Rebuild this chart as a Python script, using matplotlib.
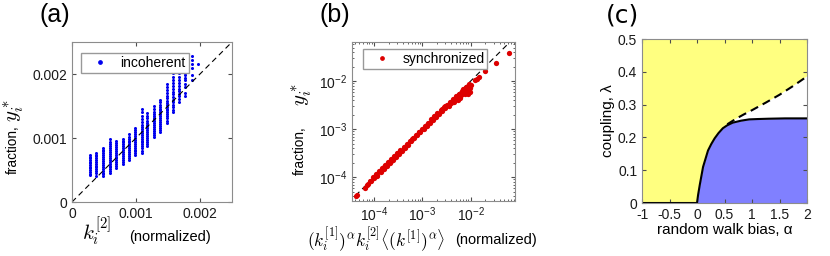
import numpy as np
import matplotlib
matplotlib.use("Agg")
import matplotlib.pyplot as plt

plt.rcParams["font.family"] = ["Liberation Sans", "DejaVu Sans"]
plt.rcParams["mathtext.fontset"] = "cm"

# (a) incoherent state: columns of points, y values in units of 1e-5
col_x = [0.00028, 0.00038, 0.00048, 0.00059, 0.00069, 0.00079, 0.00089, 0.00099, 0.00109,
         0.00118, 0.00128, 0.00138, 0.00148, 0.00158, 0.00167, 0.00177, 0.00187, 0.00197]
col_y = [
    [42, 44, 47, 50, 53, 55, 58, 61, 63, 66, 69, 71, 73],
    [40, 45, 48, 51, 54, 57, 60, 63, 66, 69, 72, 74, 77],
    [40, 43, 46, 49, 52, 55, 58, 61, 64, 67, 70, 73, 76, 79, 82, 85],
    [45, 48, 51, 54, 57, 60, 63, 66, 69, 72, 75, 78, 81, 84, 87, 90, 93, 98],
    [53, 56, 59, 62, 65, 68, 71, 74, 77, 80, 83, 86, 89, 92, 96],
    [60, 63, 66, 69, 72, 75, 78, 81, 84, 87, 90, 93, 96, 98],
    [66, 69, 72, 75, 78, 81, 84, 87, 90, 93, 96, 99, 102, 107],
    [73, 76, 79, 82, 85, 88, 91, 94, 97, 100, 103, 106, 109, 112, 115],
    [76, 80, 84, 87, 90, 93, 96, 99, 102, 105, 108, 111, 114, 117, 120, 125, 130, 135, 140, 145],
    [88, 91, 94, 97, 100, 103, 106, 109, 112, 115, 118, 121, 124, 127, 131, 135, 139],
    [102, 105, 108, 111, 114, 117, 120, 123, 126, 129, 132, 135, 138, 141, 145, 150],
    [110, 113, 116, 119, 122, 125, 128, 131, 134, 137, 140, 143, 146, 149, 152, 156, 160],
    [123, 127, 131, 134, 137, 140, 143, 146, 149, 152, 155, 158, 162, 166, 170, 175, 180, 185],
    [140, 144, 148, 152, 156, 160, 164, 168, 172, 176, 181, 186, 191, 196, 201, 206],
    [157, 161, 165, 169, 173, 177, 181, 186, 191, 196, 201, 205, 209, 213],
    [165, 170, 180, 185, 190, 194, 198, 202, 206, 210, 214, 219],
    [190, 199, 210, 216, 222, 228],
    [216],
]

# (b) synchronized state
sync_x = [4.3e-5, 4.5e-5, 6.5e-5, 7.0e-5, 7.6e-5, 8.2e-5, 8.8e-5, 9.5e-5, 1.02e-4, 1.10e-4,
          1.18e-4, 1.27e-4, 1.37e-4, 1.47e-4, 1.58e-4, 1.70e-4, 1.83e-4, 1.97e-4, 2.12e-4, 2.28e-4,
          2.45e-4, 2.64e-4, 2.84e-4, 3.05e-4, 3.28e-4, 3.53e-4, 3.80e-4, 4.09e-4, 4.40e-4, 4.73e-4,
          5.09e-4, 5.48e-4, 5.90e-4, 6.35e-4, 6.83e-4, 7.35e-4, 7.90e-4, 8.50e-4, 9.15e-4, 9.85e-4,
          1.06e-3, 1.14e-3, 1.23e-3, 1.32e-3, 1.42e-3, 1.53e-3, 1.65e-3, 1.77e-3, 1.91e-3, 2.05e-3,
          2.21e-3, 2.38e-3, 2.56e-3, 2.75e-3, 2.96e-3, 3.19e-3, 3.43e-3, 3.69e-3, 3.97e-3, 4.27e-3,
          4.60e-3, 4.95e-3, 5.30e-3, 5.70e-3, 6.20e-3, 6.70e-3, 7.20e-3, 7.80e-3, 8.40e-3, 9.00e-3,
          9.60e-3, 1.00e-2, 9.80e-3, 8.80e-3, 4.50e-3, 6.00e-3, 7.50e-3, 1.23e-2, 1.33e-2, 1.50e-2,
          2.00e-2, 3.37e-2, 6.10e-2, 2.50e-3, 3.00e-3, 3.50e-3, 5.00e-3, 5.50e-3, 6.50e-3, 7.00e-3,
          8.00e-3, 9.20e-3, 1.15e-4, 1.6e-4, 2.2e-4, 3.1e-4, 4.3e-4, 6.1e-4, 8.7e-4, 1.25e-3, 1.8e-3]
sync_y = [4.0e-5, 4.2e-5, 5.9e-5, 6.9e-5, 7.1e-5, 8.5e-5, 8.3e-5, 9.9e-5, 9.6e-5, 1.15e-4,
          1.10e-4, 1.33e-4, 1.29e-4, 1.53e-4, 1.48e-4, 1.77e-4, 1.72e-4, 2.05e-4, 1.99e-4, 2.37e-4,
          2.30e-4, 2.75e-4, 2.67e-4, 3.17e-4, 3.08e-4, 3.67e-4, 3.57e-4, 4.25e-4, 4.14e-4, 4.92e-4,
          4.78e-4, 5.70e-4, 5.55e-4, 6.60e-4, 6.42e-4, 7.64e-4, 7.43e-4, 8.84e-4, 8.60e-4, 1.02e-3,
          9.96e-4, 1.19e-3, 1.16e-3, 1.37e-3, 1.33e-3, 1.59e-3, 1.55e-3, 1.84e-3, 1.79e-3, 2.13e-3,
          2.06e-3, 2.45e-3, 2.38e-3, 2.83e-3, 2.72e-3, 3.24e-3, 3.12e-3, 3.70e-3, 3.57e-3, 4.22e-3,
          4.05e-3, 4.80e-3, 4.60e-3, 5.40e-3, 5.10e-3, 6.20e-3, 5.80e-3, 7.00e-3, 6.50e-3, 7.90e-3,
          7.20e-3, 8.20e-3, 5.80e-3, 5.50e-3, 3.60e-3, 4.50e-3, 5.30e-3, 1.05e-2, 1.12e-2, 1.20e-2,
          1.64e-2, 2.33e-2, 3.77e-2, 2.60e-3, 3.10e-3, 3.00e-3, 4.20e-3, 4.00e-3, 5.50e-3, 6.80e-3,
          7.50e-3, 8.50e-3, 1.08e-4, 1.62e-4, 2.14e-4, 3.15e-4, 4.25e-4, 6.15e-4, 8.6e-4, 1.24e-3, 1.82e-3]

# (c) phase diagram
alpha_solid = [-1, 0, 0.02, 0.05, 0.11, 0.2, 0.26, 0.32, 0.39, 0.47, 0.55, 0.65, 0.8, 0.95, 1.1, 1.3, 1.6, 2.0]
lam_solid = [0, 0, 0.025, 0.055, 0.11, 0.16, 0.18, 0.197, 0.213, 0.228, 0.237, 0.245, 0.251, 0.255, 0.256, 0.257, 0.258, 0.258]
alpha_dash = [0.55, 0.7, 0.85, 1.0, 1.25, 1.5, 1.75, 2.0]
lam_dash = [0.240, 0.256, 0.270, 0.283, 0.306, 0.330, 0.357, 0.386]

fig = plt.figure(figsize=(8.3, 2.56), dpi=100)
FS = 10
edge = "0.55"


def style(ax):
    ax.tick_params(which="both", direction="in", top=True, right=True, labelsize=FS,
                   color="0.3", labelcolor="0.1")
    ax.tick_params(which="major", length=3)
    ax.tick_params(which="minor", length=1.5)
    for s in ax.spines.values():
        s.set_color(edge)
        s.set_linewidth(0.8)


# ---- (a)
ax1 = fig.add_axes([0.0867, 0.2109, 0.1928, 0.625])
for xv, ys in zip(col_x, col_y):
    ax1.plot([xv] * len(ys), np.array(ys) * 1e-5, "o", color="#0000ee", ms=2.2, mew=0)
ax1.plot([0, 0.0025], [0, 0.0025], "--", color="k", lw=0.8, dashes=(5, 3.5))
ax1.plot([], [], "o", color="#0000ee", ms=2.4, label="incoherent")
ax1.set_xlim(0, 0.0025)
ax1.set_ylim(0, 0.0025)
ax1.set_xticks([0, 0.001, 0.002])
ax1.set_xticklabels(["0", "0.001", "0.002"])
ax1.set_yticks([0, 0.001, 0.002])
ax1.set_yticklabels(["0", "0.001", "0.002"])
style(ax1)
h, l = ax1.get_legend_handles_labels()
ax1.legend(h[-1:], l[-1:], loc="upper left", bbox_to_anchor=(0.056, 0.93), borderaxespad=0,
           fontsize=FS, fancybox=False, edgecolor="0.6", framealpha=1, handlelength=2.4,
           handletextpad=0.25, borderpad=0.2)
ax1.text(-0.37, 0.48, "fraction,", rotation=90, ha="center", va="top", fontsize=9.8,
         transform=ax1.transAxes)
ax1.text(-0.36, 0.5, "$y_i^*$", rotation=90, ha="center", va="bottom", fontsize=15,
         transform=ax1.transAxes)
ax1.text(0.156, -0.19, "$k_i^{[2]}$", ha="center", va="center", fontsize=15,
         transform=ax1.transAxes)
ax1.text(0.61, -0.216, "(normalized)", ha="center", va="center", fontsize=10.5,
         transform=ax1.transAxes)
fig.text(55 / 830, 1 - 15 / 256, "(a)", ha="center", va="center", fontsize=18)

# ---- (b)
ax2 = fig.add_axes([0.4241, 0.2148, 0.1964, 0.621])
ax2.set_xscale("log")
ax2.set_yscale("log")
ax2.plot([3e-5, 0.1], [3e-5, 0.1], "--", color="k", lw=0.8, dashes=(5, 3.5))
ax2.plot(sync_x, sync_y, "o", color="#dd0000", ms=3.8, mew=0)
ax2.plot([], [], "o", color="#dd0000", ms=2.4, label="synchronized")
ax2.set_xlim(3.5e-5, 0.083)
ax2.set_ylim(3.2e-5, 0.065)
ax2.set_xticks([1e-4, 1e-3, 1e-2])
ax2.set_xticklabels([r"$\mathregular{10^{-4}}$", r"$\mathregular{10^{-3}}$", r"$\mathregular{10^{-2}}$"])
ax2.set_yticks([1e-4, 1e-3, 1e-2])
ax2.set_yticklabels([r"$\mathregular{10^{-4}}$", r"$\mathregular{10^{-3}}$", r"$\mathregular{10^{-2}}$"])
ax2.minorticks_on()
ax2.xaxis.set_minor_formatter(plt.NullFormatter())
ax2.yaxis.set_minor_formatter(plt.NullFormatter())
style(ax2)
h, l = ax2.get_legend_handles_labels()
ax2.legend(h[-1:], l[-1:], loc="upper left", bbox_to_anchor=(0.067, 0.956), borderaxespad=0,
           fontsize=FS, fancybox=False, edgecolor="0.6", framealpha=1, handlelength=2.4,
           handletextpad=0.25, borderpad=0.2)
ax2.text(-0.32, 0.47, "fraction,", rotation=90, ha="center", va="top", fontsize=9.8,
         transform=ax2.transAxes)
ax2.text(-0.31, 0.6, "$y_i^*$", rotation=90, ha="center", va="bottom", fontsize=15,
         transform=ax2.transAxes)
ax2.text(0.147, -0.245, r"$(k_i^{[1]})^\alpha k_i^{[2]}\langle(k^{[1]})^\alpha\rangle$",
         ha="center", va="center", fontsize=12.5, transform=ax2.transAxes)
ax2.text(0.883, -0.245, "(normalized)", ha="center", va="center", fontsize=10.5,
         transform=ax2.transAxes)
fig.text(335 / 830, 1 - 15 / 256, "(b)", ha="center", va="center", fontsize=18)

# ---- (c)
ax3 = fig.add_axes([0.7735, 0.207, 0.1988, 0.6406])
ax3.set_facecolor("#ffff80")
ax3.fill_between(alpha_solid, lam_solid, 0, color="#8080ff", lw=0)
poly_a = alpha_dash + [a for a in alpha_solid[::-1] if a >= 0.55]
poly_l = lam_dash + [v for a, v in zip(alpha_solid[::-1], lam_solid[::-1]) if a >= 0.55]
ax3.fill(poly_a, poly_l, color="white", lw=0)
ax3.plot(alpha_solid, lam_solid, "-", color="k", lw=1.5)
ax3.plot(alpha_dash, lam_dash, "--", color="k", lw=1.5, dashes=(4, 2.5))
ax3.set_xlim(-1, 2)
ax3.set_ylim(0, 0.5)
ax3.set_xticks([-1, -0.5, 0, 0.5, 1, 1.5, 2])
ax3.set_xticklabels(["-1", "-0.5", "0", "0.5", "1", "1.5", "2"])
ax3.set_yticks([0, 0.1, 0.2, 0.3, 0.4, 0.5])
ax3.set_yticklabels(["0", "0.1", "0.2", "0.3", "0.4", "0.5"])
style(ax3)
ax3.set_xlabel("random walk bias, α", fontsize=11, labelpad=1)
ax3.set_ylabel("coupling, λ", fontsize=11, labelpad=2)
fig.text(623 / 830, 1 - 15 / 256, "(c)", ha="center", va="center", fontsize=18,
         family="DejaVu Sans")

fig.savefig("out.png", dpi=100)
